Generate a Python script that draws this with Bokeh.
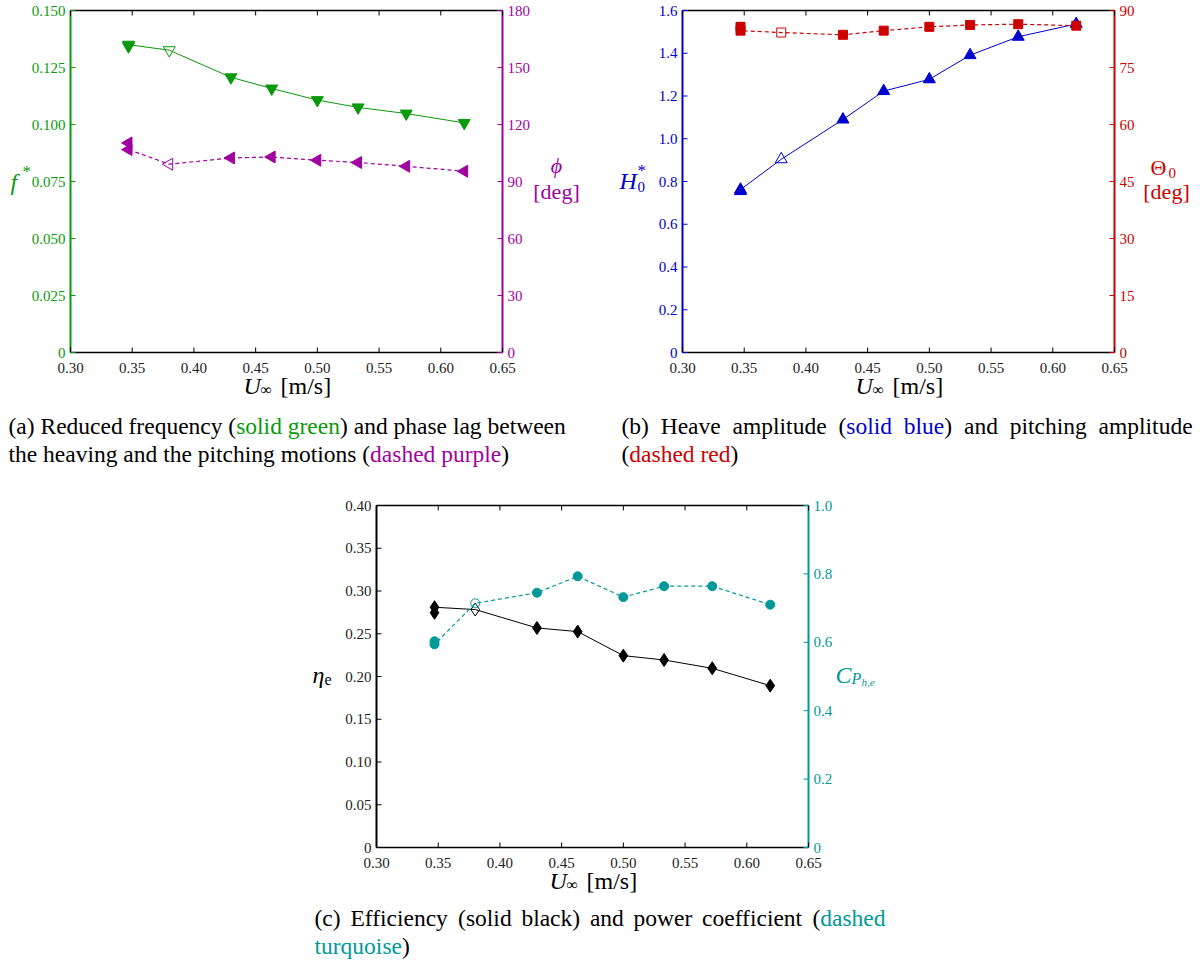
import math
from bokeh.plotting import figure
from bokeh.models import Range1d, ColumnDataSource, Spacer
from bokeh.layouts import column, row
from bokeh.core.properties import value
from bokeh.embed import file_html
from bokeh.resources import INLINE

# ---------------- data ----------------
u_speed = [0.347, 0.347, 0.380, 0.430, 0.463, 0.500, 0.533, 0.572, 0.619]
open_index = 2  # hollow marker

f_star = [0.1343, 0.1350, 0.1326, 0.1207, 0.1158, 0.1107, 0.1075, 0.1048, 0.1007]
phi_deg = [110.3, 106.8, 99.1, 102.4, 102.9, 101.2, 100.0, 98.0, 95.4]
h0_star = [0.755, 0.762, 0.904, 1.090, 1.223, 1.278, 1.391, 1.477, 1.537]
theta0_deg = [85.7, 84.7, 84.2, 83.6, 84.7, 85.7, 86.2, 86.4, 86.0]
eta_e = [0.2745, 0.281, 0.2783, 0.2568, 0.2525, 0.2244, 0.2193, 0.2096, 0.1893]
cp_he = [0.603, 0.594, 0.714, 0.745, 0.793, 0.732, 0.764, 0.764, 0.710]

x_ticks = [0.30, 0.35, 0.40, 0.45, 0.50, 0.55, 0.60, 0.65]
x_tick_labels = ["0.30", "0.35", "0.40", "0.45", "0.50", "0.55", "0.60", "0.65"]
f_ticks = [0, 0.025, 0.05, 0.075, 0.1, 0.125, 0.15]
f_tick_labels = ["0", "0.025", "0.050", "0.075", "0.100", "0.125", "0.150"]
phi_ticks = [0, 30, 60, 90, 120, 150, 180]
phi_tick_labels = ["0", "30", "60", "90", "120", "150", "180"]
h_ticks = [0, 0.2, 0.4, 0.6, 0.8, 1.0, 1.2, 1.4, 1.6]
h_tick_labels = ["0", "0.2", "0.4", "0.6", "0.8", "1.0", "1.2", "1.4", "1.6"]
theta_ticks = [0, 15, 30, 45, 60, 75, 90]
theta_tick_labels = ["0", "15", "30", "45", "60", "75", "90"]
eta_ticks = [0, 0.05, 0.1, 0.15, 0.2, 0.25, 0.3, 0.35, 0.4]
eta_tick_labels = ["0", "0.05", "0.10", "0.15", "0.20", "0.25", "0.30", "0.35", "0.40"]
cp_ticks = [0, 0.2, 0.4, 0.6, 0.8, 1.0]
cp_tick_labels = ["0", "0.2", "0.4", "0.6", "0.8", "1.0"]

GREEN = "#0a990a"
PURPLE = "#a000a0"
BLUE = "#0000cc"
RED = "#cc0000"
TEAL = "#009999"
BLACK = "#000000"
TICK_TEXT = "#222222"
SERIF = "Liberation Serif"

# captions: (text, x, y, color)
cap_ab = [
    ("(a) Reduced frequency (", 8, 25, BLACK),
    ("solid green", 235.7, 25, GREEN),
    (") and phase lag between", 339.5, 25, BLACK),
    ("the heaving and the pitching motions (", 8, 53, BLACK),
    ("dashed purple", 369.6, 53, PURPLE),
    (")", 500.8, 53, BLACK),
    ("(b)", 621, 25, BLACK),
    ("Heave", 660.2, 25, BLACK),
    ("amplitude", 732.1, 25, BLACK),
    ("(", 837.9, 25, BLACK),
    ("solid", 845.8, 25, BLUE),
    ("blue", 903.3, 25, BLUE),
    (")", 943.8, 25, BLACK),
    ("and", 963.5, 25, BLACK),
    ("pitching", 1009.2, 25, BLACK),
    ("amplitude", 1098.1, 25, BLACK),
    ("(", 621, 53, BLACK),
    ("dashed red", 628.8, 53, RED),
    (")", 730.0, 53, BLACK),
]
cap_c = [
    ("(c)", 314, 22, BLACK),
    ("Efficiency", 349.9, 22, BLACK),
    ("(solid", 457.6, 22, BLACK),
    ("black)", 520.9, 22, BLACK),
    ("and", 589.4, 22, BLACK),
    ("power", 633.1, 22, BLACK),
    ("coefficient", 701.6, 22, BLACK),
    ("(", 811.9, 22, BLACK),
    ("dashed", 819.7, 22, TEAL),
    ("turquoise", 314, 50, TEAL),
    (")", 401.5, 50, BLACK),
]

# axis-label pieces: (text, dx, dy, size, style, align)
xlabel_pieces = [("U", -43, 33, "24px", "italic", "left"),
                 ("∞", -26, 37, "16px", "normal", "left"),
                 ("[m/s]", -6, 33, "24px", "normal", "left")]
f_label = [("f", -60, 0, "24px", "italic", "left"), ("*", -48, -10, "17px", "normal", "left")]
phi_label = [("ϕ", 54, -16, "22px", "italic", "center"), ("[deg]", 54, 10, "22px", "normal", "center")]
h_label = [("H", -63, -1, "24px", "italic", "left"), ("*", -45, -11, "17px", "normal", "left"),
           ("0", -45, 5, "15px", "normal", "left")]
theta_label = [("Θ", 44, -14, "22px", "normal", "center"), ("0", 54, -9, "15px", "normal", "left"),
               ("[deg]", 52, 10, "22px", "normal", "center")]
eta_label = [("η", -64, -2, "24px", "italic", "left"), ("e", -52, 3, "16px", "normal", "left")]
cp_label = [("C", 27, -2, "24px", "italic", "left"), ("P", 43, 2, "16px", "italic", "left"),
            ("h,e", 53, 5, "11px", "italic", "left")]


def padded(lo, hi, pix_lo, pix_hi, pix_len):
    per = (hi - lo) / pix_len
    return Range1d(lo - pix_lo * per, hi + pix_hi * per)


def rich_label(p, x, y, pieces, color, range_name="default"):
    for txt, dx, dy, size, style, align in pieces:
        p.text(x=[x], y=[y], text=[txt], x_offset=dx, y_offset=dy,
               text_font=value(SERIF), text_font_size=value(size),
               text_font_style=value(style), text_color=color,
               text_align=value(align), text_baseline=value("alphabetic"),
               y_range_name=range_name)


def make_panel(W, H, margins, left_ticks, left_labels, left_color,
               right_ticks, right_labels, right_color):
    L, R, T, B = margins
    fw, fh = W - L - R, H - T - B
    xlo, xhi = x_ticks[0], x_ticks[-1]
    ylo, yhi = left_ticks[0], left_ticks[-1]
    rlo, rhi = right_ticks[0], right_ticks[-1]
    p = figure(width=W, height=H, x_range=padded(xlo, xhi, L, R, fw),
               y_range=padded(ylo, yhi, B, T, fh), x_axis_type=None, y_axis_type=None,
               output_backend="svg", toolbar_location=None, min_border=0)
    p.outline_line_color = None
    p.background_fill_color = "white"
    p.border_fill_color = "white"
    p.extra_y_ranges = {"right": padded(rlo, rhi, B, T, fh)}

    # frame lines
    p.segment(x0=[xlo, xlo], y0=[ylo, yhi], x1=[xhi, xhi], y1=[ylo, yhi],
              line_color=BLACK, line_width=1.3)
    p.segment(x0=[xlo], y0=[ylo], x1=[xlo], y1=[yhi], line_color=left_color, line_width=2)
    p.segment(x0=[xhi], y0=[rlo], x1=[xhi], y1=[rhi], line_color=right_color, line_width=2,
              y_range_name="right")

    # inward ticks
    n = len(x_ticks)
    p.ray(x=x_ticks, y=[ylo] * n, length=5, length_units="screen", angle=math.pi / 2,
          line_color=BLACK, line_width=1)
    p.ray(x=x_ticks, y=[yhi] * n, length=5, length_units="screen", angle=-math.pi / 2,
          line_color=BLACK, line_width=1)
    p.ray(x=[xlo] * len(left_ticks), y=left_ticks, length=5, length_units="screen", angle=0,
          line_color=left_color, line_width=1)
    p.ray(x=[xhi] * len(right_ticks), y=right_ticks, length=5, length_units="screen",
          angle=math.pi, line_color=right_color, line_width=1, y_range_name="right")

    # tick labels
    common = dict(text_font=value(SERIF), text_font_size=value("15px"),
                  text_baseline=value("middle"))
    p.text(x=x_ticks, y=[ylo] * n, text=x_tick_labels, text_align=value("center"),
           y_offset=15, text_color=TICK_TEXT, **common)
    p.text(x=[xlo] * len(left_ticks), y=left_ticks, text=left_labels,
           text_align=value("right"), x_offset=-5,
           text_color=left_color if left_color != BLACK else TICK_TEXT, **common)
    p.text(x=[xhi] * len(right_ticks), y=right_ticks, text=right_labels,
           text_align=value("left"), x_offset=5, text_color=right_color,
           y_range_name="right", **common)

    rich_label(p, (xlo + xhi) / 2, ylo, xlabel_pieces, BLACK)
    return p


def draw_series(p, x, y, color, marker, size, dash, angle=0.0, range_name="default", lw=1.0):
    p.line(x, y, line_color=color, line_width=lw, line_dash=dash, y_range_name=range_name)
    xf = [v for i, v in enumerate(x) if i != open_index]
    yf = [v for i, v in enumerate(y) if i != open_index]
    p.scatter(xf, yf, marker=marker, size=size, fill_color=color, line_color=color,
              angle=angle, y_range_name=range_name)
    p.scatter([x[open_index]], [y[open_index]], marker=marker, size=size, fill_color=None,
              line_color=color, line_width=1, angle=angle, y_range_name=range_name)


# ---------------- panel (a) ----------------
fa = make_panel(600, 400, (70, 98, 10, 48), f_ticks, f_tick_labels, GREEN,
                phi_ticks, phi_tick_labels, PURPLE)
draw_series(fa, u_speed, f_star, GREEN, "inverted_triangle", 12, "solid")
draw_series(fa, u_speed, phi_deg, PURPLE, "triangle", 12, "4 3", angle=math.pi / 2,
            range_name="right", lw=1.2)
rich_label(fa, x_ticks[0], (f_ticks[0] + f_ticks[-1]) / 2, f_label, GREEN)
rich_label(fa, x_ticks[-1], (phi_ticks[0] + phi_ticks[-1]) / 2, phi_label, PURPLE, "right")

# ---------------- panel (b) ----------------
fb = make_panel(600, 400, (82, 86, 10, 48), h_ticks, h_tick_labels, BLUE,
                theta_ticks, theta_tick_labels, RED)
draw_series(fb, u_speed, h0_star, BLUE, "triangle", 12, "solid")
draw_series(fb, u_speed, theta0_deg, RED, "square", 9, "4 3", range_name="right", lw=1.2)
rich_label(fb, x_ticks[0], (h_ticks[0] + h_ticks[-1]) / 2, h_label, BLUE)
rich_label(fb, x_ticks[-1], (theta_ticks[0] + theta_ticks[-1]) / 2, theta_label, RED, "right")

# ---------------- panel (c) ----------------
fc = make_panel(608, 420, (76, 100, 30, 48), eta_ticks, eta_tick_labels, BLACK,
                cp_ticks, cp_tick_labels, TEAL)
draw_series(fc, u_speed, eta_e, BLACK, "diamond", 13, "solid")
draw_series(fc, u_speed, cp_he, TEAL, "circle", 9, "4 3", range_name="right", lw=1.2)
rich_label(fc, x_ticks[0], (eta_ticks[0] + eta_ticks[-1]) / 2, eta_label, BLACK)
rich_label(fc, x_ticks[-1], (cp_ticks[0] + cp_ticks[-1]) / 2, cp_label, TEAL, "right")


# ---------------- captions ----------------
def make_caption(height, items):
    c = figure(width=1200, height=height, x_range=Range1d(0, 1200), y_range=Range1d(height, 0),
               x_axis_type=None, y_axis_type=None, output_backend="svg",
               toolbar_location=None, min_border=0)
    c.outline_line_color = None
    src = ColumnDataSource(dict(text=[t[0] for t in items], x=[t[1] for t in items],
                                y=[t[2] for t in items], color=[t[3] for t in items]))
    c.text(x="x", y="y", text="text", text_color="color", source=src,
           text_font=value(SERIF), text_font_size=value("23.5px"),
           text_baseline=value("middle"), text_align=value("left"))
    return c


cap1 = make_caption(75, cap_ab)
cap2 = make_caption(68, cap_c)

layout = column(row(fa, fb), cap1, row(Spacer(width=300, height=420), fc), cap2)

open("out.html", "w").write(file_html(layout, INLINE))
